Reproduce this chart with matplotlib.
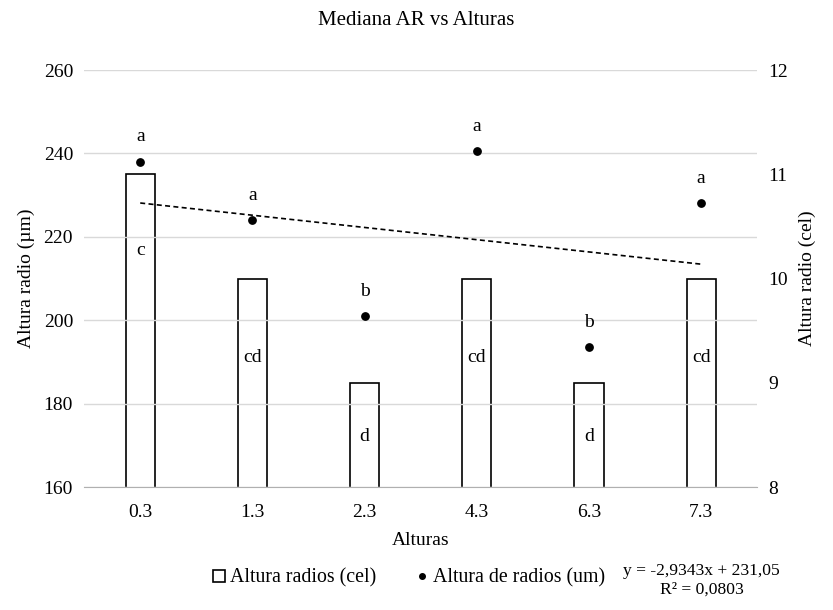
import matplotlib.pyplot as plt
from matplotlib.lines import Line2D

plt.rcParams['font.family'] = ['Liberation Serif', 'DejaVu Serif']

alturas = ['0.3', '1.3', '2.3', '4.3', '6.3', '7.3']
cel = [11, 10, 9, 10, 9, 10]
um = [238, 224, 201, 240.5, 193.5, 228]
cel_letras = ['c', 'cd', 'd', 'cd', 'd', 'cd']
um_letras = ['a', 'a', 'b', 'a', 'b', 'a']
pendiente = -2.9343
intercepto = 231.05

# altura (eje cel) donde va cada letra dentro de la barra
pos_letras = [10.27, 9.24, 8.48, 9.24, 8.48, 9.24]

fig = plt.figure(figsize=(8.33, 6.1), dpi=100)
ax = fig.add_axes([0.101, 0.2016, 0.808, 0.6836])
ax2 = ax.twinx()

x = list(range(len(alturas)))

# barras en el eje derecho
ax2.bar(x, cel, 0.26, color='white', edgecolor='black', linewidth=1.2, zorder=2)
ax2.set_ylim(8, 12)
ax2.set_yticks([8, 9, 10, 11, 12])
for i in x:
    ax2.text(i, pos_letras[i], cel_letras[i], ha='center', va='center', fontsize=14)

# puntos en el eje izquierdo
ax.set_ylim(160, 260)
ax.set_yticks(range(160, 261, 20))
ax.grid(axis='y', color='#d9d9d9', linewidth=1)
ax.set_axisbelow(True)
ax.set_zorder(ax2.get_zorder() + 1)
ax.patch.set_visible(False)
ax.scatter(x, um, s=28, color='black', zorder=3)
for i in x:
    ax.text(i, um[i] + 6, um_letras[i], ha='center', va='center', fontsize=14)

# linea de tendencia
tx = [i + 1 for i in x]
ty = [pendiente * t + intercepto for t in tx]
ax.plot(x, ty, color='black', linestyle=(0, (3, 2)), linewidth=1.2, zorder=3)

ax.set_xlim(-0.5, 5.5)
ax.set_xticks(x)
ax.set_xticklabels(alturas)
for a in (ax, ax2):
    for s in a.spines.values():
        s.set_visible(False)
    a.tick_params(length=0, labelsize=14, pad=8)
ax.tick_params(axis='x', pad=12)
ax.spines['bottom'].set_visible(True)
ax.spines['bottom'].set_color('#b0b0b0')

ax.set_xlabel('Alturas', fontsize=14, labelpad=8)
ax.set_ylabel('Altura radio (µm)', fontsize=14, labelpad=6)
ax2.set_ylabel('Altura radio (cel)', fontsize=14, labelpad=8)
fig.suptitle('Mediana AR vs Alturas', fontsize=15, y=0.982)

handles = [Line2D([], [], marker='s', markerfacecolor='white', markeredgecolor='black',
                  markeredgewidth=1.2, linestyle='none', markersize=8.5),
           Line2D([], [], marker='o', color='black', linestyle='none', markersize=4)]
fig.legend(handles, ['Altura radios (cel)', 'Altura de radios (um)'],
           loc='center', bbox_to_anchor=(0.491, 0.052), ncol=2, frameon=False,
           fontsize=14.3, handlelength=0.6, handletextpad=0.25, columnspacing=2.0)

fig.text(0.842, 0.049, 'y = -2,9343x + 231,05\nR² = 0,0803', ha='center', va='center',
         fontsize=12.6, linespacing=1.2)

fig.savefig('out.png', dpi=100)
